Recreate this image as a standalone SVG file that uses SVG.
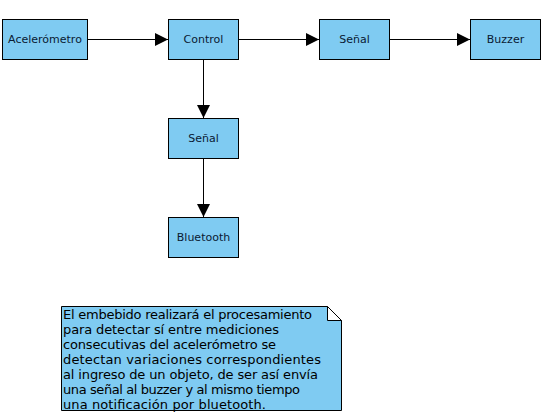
<svg xmlns="http://www.w3.org/2000/svg" width="544" height="416" viewBox="0 0 544 416">
<defs>
<style>
.box{fill:#7fcbf2;stroke:#000;stroke-width:1}
.lbl{font-family:"DejaVu Sans",sans-serif;font-size:11px;fill:#0a1a33;text-anchor:middle;dominant-baseline:central}
.edge{stroke:#000;stroke-width:1;fill:none}
.note{font-family:"DejaVu Sans",sans-serif;font-size:13px;fill:#000}
</style>
<marker id="ah" markerWidth="13" markerHeight="13" refX="13" refY="6.5" orient="auto" markerUnits="userSpaceOnUse">
<path d="M0,0 L13,6.5 L0,13 Z" fill="#000"/>
</marker>
</defs>
<rect width="544" height="416" fill="#fff"/>
<g id="connectors">
<line class="edge" x1="87" y1="39.5" x2="168" y2="39.5" marker-end="url(#ah)"/>
<line class="edge" x1="238" y1="39.5" x2="319" y2="39.5" marker-end="url(#ah)"/>
<line class="edge" x1="389" y1="39.5" x2="470" y2="39.5" marker-end="url(#ah)"/>
<line class="edge" x1="203.5" y1="59" x2="203.5" y2="118" marker-end="url(#ah)"/>
<line class="edge" x1="203.5" y1="158" x2="203.5" y2="217" marker-end="url(#ah)"/>
</g>
<g id="acelerometro"><rect class="box" x="2.5" y="19.5" width="85" height="40"/><text class="lbl" x="45" y="39.5">Acelerómetro</text></g>
<g id="control"><rect class="box" x="168.5" y="19.5" width="70" height="40"/><text class="lbl" x="203.5" y="39.5">Control</text></g>
<g id="senal1"><rect class="box" x="319.5" y="19.5" width="70" height="40"/><text class="lbl" x="354.5" y="39.5">Señal</text></g>
<g id="buzzer"><rect class="box" x="470.5" y="19.5" width="70" height="40"/><text class="lbl" x="505.5" y="39.5">Buzzer</text></g>
<g id="senal2"><rect class="box" x="168.5" y="118.5" width="70" height="40"/><text class="lbl" x="203.5" y="138.5">Señal</text></g>
<g id="bluetooth"><rect class="box" x="168.5" y="217.5" width="70" height="40"/><text class="lbl" x="203.5" y="237.5">Bluetooth</text></g>
<g id="nota">
<path class="box" d="M61.5,306.5 H327.5 L341.5,320.5 V410.5 H61.5 Z"/>
<path d="M327.5,306.5 L341.5,320.5 H327.5 Z" fill="#fff" stroke="#000"/>
<text class="note" x="63" y="318.5" textLength="249" lengthAdjust="spacing">El embebido realizará el procesamiento</text>
<text class="note" x="63" y="333.5" textLength="216" lengthAdjust="spacing">para detectar sí entre mediciones</text>
<text class="note" x="63" y="348.5" textLength="213" lengthAdjust="spacing">consecutivas del acelerómetro se</text>
<text class="note" x="63" y="363.5" textLength="258" lengthAdjust="spacing">detectan variaciones correspondientes</text>
<text class="note" x="63" y="378.5" textLength="255" lengthAdjust="spacing">al ingreso de un objeto, de ser así envía</text>
<text class="note" x="63" y="393.5" textLength="237" lengthAdjust="spacing">una señal al buzzer y al mismo tiempo</text>
<text class="note" x="63" y="408.5" textLength="203" lengthAdjust="spacing">una notificación por bluetooth.</text>
</g>
</svg>
